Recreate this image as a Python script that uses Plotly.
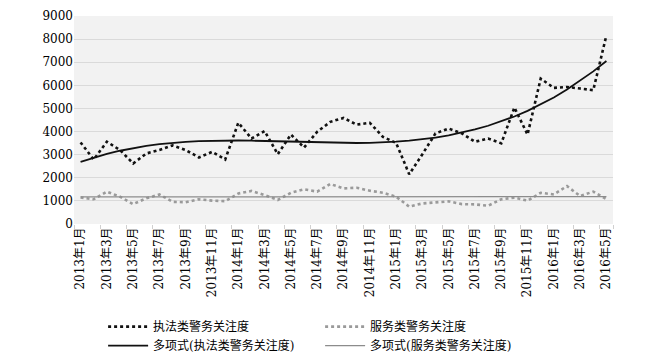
import numpy as np
import plotly.graph_objects as go

months = [f"{y}年{m}月" for y in (2013, 2014, 2015, 2016) for m in range(1, 13)][:41]

enforce = [3530, 2790, 3560, 3200, 2620, 3050, 3200, 3400, 3200, 2880, 3120, 2790,
           4380, 3700, 4020, 3020, 3870, 3310, 3990, 4420, 4590, 4300, 4380, 3770,
           3510, 2150, 3020, 3920, 4130, 3920, 3560, 3700, 3490, 5040, 3870, 6290,
           5890, 5930, 5860, 5790, 8170]
service = [1150, 1070, 1400, 1180, 860, 1110, 1280, 960, 940, 1070, 1010, 990,
           1320, 1430, 1250, 1040, 1350, 1500, 1400, 1730, 1540, 1570, 1440, 1350,
           1180, 750, 890, 920, 980, 860, 850, 790, 1070, 1140, 1010, 1350,
           1280, 1640, 1210, 1400, 1080]

names = ["执法类警务关注度", "服务类警务关注度",
         "多项式(执法类警务关注度)", "多项式(服务类警务关注度)"]
tick_labels = months[::2]

idx = np.arange(len(months))
trend_enf = np.polyval(np.polyfit(idx, enforce, 3), idx)
trend_srv = np.polyval(np.polyfit(idx, service, 1), idx)

FONT = "DejaVu Serif, Noto Sans CJK SC, serif"

fig = go.Figure()
fig.add_trace(go.Scatter(x=months, y=enforce, mode="lines", name=names[0],
                         line=dict(color="#111111", width=2.6, dash="dot")))
fig.add_trace(go.Scatter(x=months, y=service, mode="lines", name=names[1],
                         line=dict(color="#9a9a9a", width=2.6, dash="dot")))
fig.add_trace(go.Scatter(x=months, y=trend_enf, mode="lines", name=names[2],
                         line=dict(color="#111111", width=1.8)))
fig.add_trace(go.Scatter(x=months, y=trend_srv, mode="lines", name=names[3],
                         line=dict(color="#8c8c8c", width=1.2)))

# page body has an 8px margin, so the figure is sized to fit inside the viewport
fig.update_layout(
    width=646, height=354,
    margin=dict(l=66, r=41, t=8, b=138),
    paper_bgcolor="white", plot_bgcolor="#F2F2F2",
    font=dict(family=FONT, size=12, color="#000000"),
    showlegend=True,
    legend=dict(orientation="h", x=0.054, y=0.141, yref="container",
                xanchor="left", yanchor="top",
                entrywidth=162, entrywidthmode="pixels", itemwidth=40,
                font=dict(family=FONT, size=12), tracegroupgap=0,
                bgcolor="rgba(0,0,0,0)"),
    xaxis=dict(type="category", tickmode="array", tickvals=tick_labels, ticktext=tick_labels,
               tickangle=-90, range=[-0.5, len(months) - 0.5], showgrid=False,
               showline=False, zeroline=False, ticks="outside", tickson="boundaries",
               ticklen=4, tickcolor="#D0D0D0", automargin=False,
               tickfont=dict(family=FONT, size=12)),
    yaxis=dict(range=[0, 9000], dtick=1000, showgrid=True, gridcolor="#DADADA",
               gridwidth=1, zeroline=False, showline=False, ticks="", automargin=False,
               tickfont=dict(family=FONT, size=12)),
)

fig.write_html("out.html")
